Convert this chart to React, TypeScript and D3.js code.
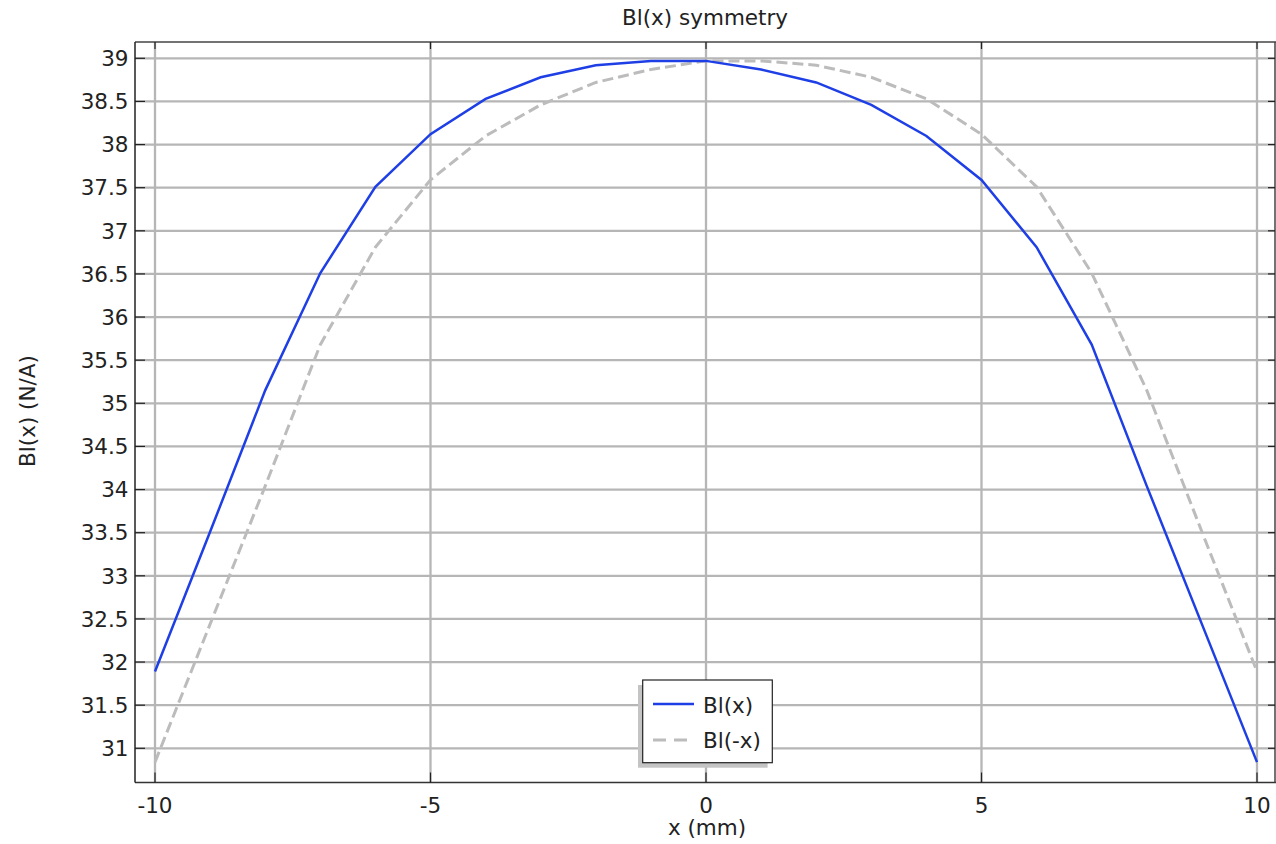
import React from "react";
import * as d3 from "d3";

const xValues = [-10, -9, -8, -7, -6, -5, -4, -3, -2, -1, 0, 1, 2, 3, 4, 5, 6, 7, 8, 9, 10];
const blX = [31.89, 33.51, 35.15, 36.51, 37.51, 38.12, 38.53, 38.78, 38.92, 38.97, 38.97, 38.87, 38.72, 38.46, 38.1, 37.59, 36.81, 35.68, 34.04, 32.44, 30.84];
const blMinusX = [30.84, 32.44, 34.04, 35.68, 36.81, 37.59, 38.1, 38.46, 38.72, 38.87, 38.97, 38.97, 38.92, 38.78, 38.53, 38.12, 37.51, 36.51, 35.15, 33.51, 31.89];
const xTicks = [-10, -5, 0, 5, 10];
const yTicks = [31, 31.5, 32, 32.5, 33, 33.5, 34, 34.5, 35, 35.5, 36, 36.5, 37, 37.5, 38, 38.5, 39];
const seriesNames = ["Bl(x)", "Bl(-x)"];
const title = "Bl(x) symmetry";
const xLabel = "x (mm)";
const yLabel = "Bl(x) (N/A)";

const W = 1276, H = 844;
const L = 135, R = 1275, T = 42, B = 782.5;
const FONT = "DejaVu Sans";
const FS = 21.5;

export default function App() {
  const x = d3.scaleLinear().domain([-10, 10]).range([155, 1257]);
  const y = d3.scaleLinear().domain([31, 39]).range([748.3, 58.3]);
  const line = d3.line<[number, number]>().x(d => x(d[0])).y(d => y(d[1]));
  const d1 = line(xValues.map((v, i) => [v, blX[i]]))!;
  const d2 = line(xValues.map((v, i) => [v, blMinusX[i]]))!;
  const grid = "#b6b6b6";
  const blue = "#1f3fe6";
  const gray = "#bcbcbc";
  return (
    <svg width={W} height={H} style={{ position: "absolute", left: 0, top: 0, background: "#fff" }} fontFamily={FONT}>
      <rect x={0} y={0} width={W} height={H} fill="#fff" />
      {xTicks.map(t => (
        <line key={"gx" + t} x1={x(t)} x2={x(t)} y1={T} y2={B} stroke={grid} strokeWidth={2.3} />
      ))}
      {yTicks.map(t => (
        <line key={"gy" + t} x1={L} x2={R} y1={y(t)} y2={y(t)} stroke={grid} strokeWidth={2.3} />
      ))}
      <path d={d2} fill="none" stroke={gray} strokeWidth={3} strokeDasharray="11,5" />
      <path d={d1} fill="none" stroke={blue} strokeWidth={2.5} />
      <line x1={L} x2={R + 1} y1={T} y2={T} stroke="#444" strokeWidth={1.5} />
      <line x1={L} x2={R + 1} y1={B} y2={B} stroke="#333" strokeWidth={1.5} />
      <line x1={L} x2={L} y1={T} y2={B} stroke="#222" strokeWidth={1.5} />
      <line x1={R} x2={R} y1={T} y2={B} stroke="#444" strokeWidth={1.5} />
      {xTicks.map(t => (
        <g key={"tx" + t}>
          <line x1={x(t)} x2={x(t)} y1={B} y2={B - 10} stroke="#222" strokeWidth={1.2} />
          <line x1={x(t)} x2={x(t)} y1={T} y2={T + 7} stroke="#222" strokeWidth={1.2} />
          <text x={x(t)} y={812.5} textAnchor="middle" fontSize={FS} fill="#222">{t}</text>
        </g>
      ))}
      {yTicks.map(t => (
        <g key={"ty" + t}>
          <line x1={L} x2={L + 10} y1={y(t)} y2={y(t)} stroke="#222" strokeWidth={1.2} />
          <line x1={R} x2={R - 7} y1={y(t)} y2={y(t)} stroke="#222" strokeWidth={1.2} />
          <text x={128.5} y={y(t)} dy="0.36em" textAnchor="end" fontSize={FS} fill="#222">{t}</text>
        </g>
      ))}
      <text x={705} y={25} textAnchor="middle" fontSize={FS} fill="#222">{title}</text>
      <text x={707} y={835} textAnchor="middle" fontSize={FS} fill="#222">{xLabel}</text>
      <text transform="translate(35,411) rotate(-90)" textAnchor="middle" fontSize={FS} fill="#222">{yLabel}</text>
      <rect x={638} y={685} width={129.6} height={82.7} fill="#c4c4c4" />
      <rect x={642.7} y={680} width={129.6} height={82.7} fill="#fff" stroke="#222" strokeWidth={1.2} />
      <line x1={653} x2={694} y1={704} y2={704} stroke={blue} strokeWidth={2.5} />
      <line x1={653} x2={694} y1={740} y2={740} stroke={gray} strokeWidth={3} strokeDasharray="13,8" />
      <text x={703} y={712.5} fontSize={FS} fill="#222">{seriesNames[0]}</text>
      <text x={703} y={748} fontSize={FS} fill="#222">{seriesNames[1]}</text>
    </svg>
  );
}
